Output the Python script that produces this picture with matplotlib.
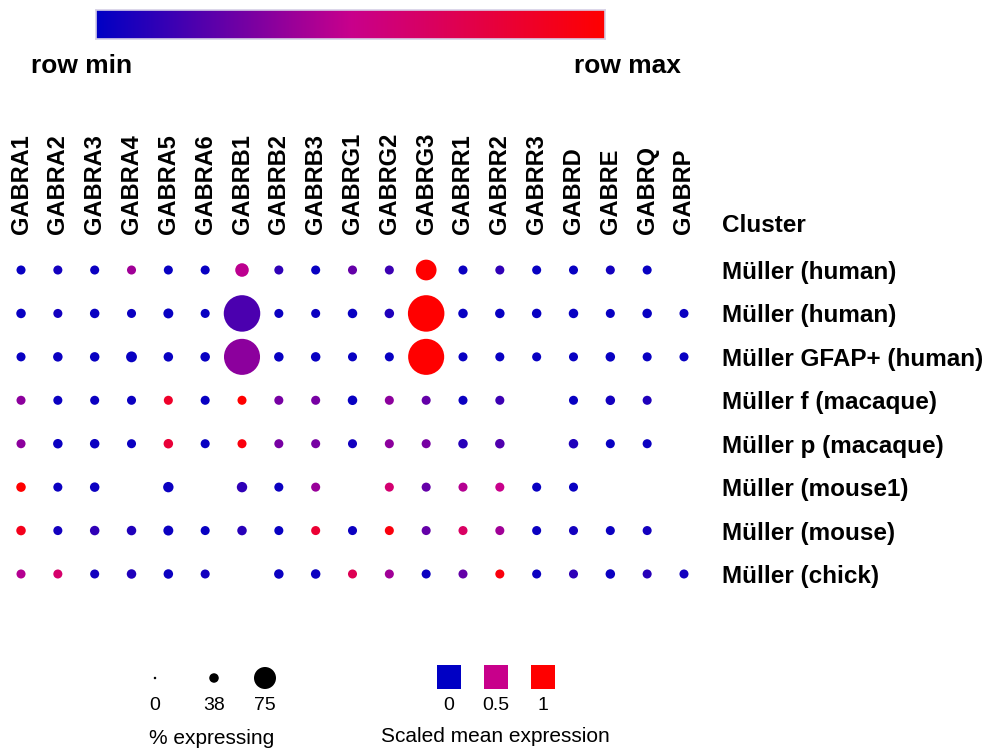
import numpy as np
import matplotlib
matplotlib.use("Agg")
import matplotlib.pyplot as plt
from matplotlib.colors import LinearSegmentedColormap

plt.rcParams["font.family"] = ["Liberation Sans", "DejaVu Sans"]

nan = np.nan

GENES = ["GABRA1", "GABRA2", "GABRA3", "GABRA4", "GABRA5", "GABRA6", "GABRB1", "GABRB2",
         "GABRB3", "GABRG1", "GABRG2", "GABRG3", "GABRR1", "GABRR2", "GABRR3", "GABRD",
         "GABRE", "GABRQ", "GABRP"]
CLUSTERS = ["Müller (human)", "Müller (human)", "Müller GFAP+ (human)", "Müller f (macaque)",
            "Müller p (macaque)", "Müller (mouse1)", "Müller (mouse)", "Müller (chick)"]

# scaled mean expression (row min = 0, row max = 1), nan = not shown
EXPR = np.array([
    [0.02, 0.05, 0.03, 0.40, 0.02, 0.02, 0.47, 0.12, 0.02, 0.25, 0.15, 1.00, 0.03, 0.12, 0.02, 0.02, 0.05, 0.02, nan],
    [0.02, 0.05, 0.02, 0.03, 0.02, 0.02, 0.19, 0.03, 0.03, 0.02, 0.08, 1.00, 0.02, 0.02, 0.02, 0.02, 0.02, 0.02, 0.03],
    [0.02, 0.03, 0.02, 0.02, 0.02, 0.02, 0.35, 0.02, 0.02, 0.02, 0.02, 1.00, 0.02, 0.02, 0.02, 0.02, 0.02, 0.02, 0.02],
    [0.35, 0.03, 0.03, 0.03, 0.85, 0.02, 1.00, 0.30, 0.30, 0.02, 0.35, 0.25, 0.03, 0.15, nan, 0.02, 0.05, 0.08, nan],
    [0.35, 0.03, 0.03, 0.03, 0.80, 0.02, 0.95, 0.30, 0.30, 0.05, 0.35, 0.30, 0.10, 0.20, nan, 0.08, 0.02, 0.03, nan],
    [1.00, 0.03, 0.03, nan, 0.03, nan, 0.12, 0.03, 0.38, nan, 0.60, 0.25, 0.45, 0.50, 0.02, 0.02, nan, nan, nan],
    [0.90, 0.05, 0.12, 0.08, 0.03, 0.02, 0.10, 0.02, 0.82, 0.03, 0.95, 0.25, 0.65, 0.40, 0.03, 0.05, 0.03, 0.05, nan],
    [0.45, 0.62, 0.05, 0.08, 0.03, 0.05, nan, 0.03, 0.03, 0.70, 0.40, 0.03, 0.25, 0.95, 0.03, 0.12, 0.03, 0.10, 0.05],
])

# % expressing
PCT = np.array([
    [9, 9, 9, 9, 9, 9, 19, 9, 9, 9, 9, 35, 9, 9, 9, 9, 9, 9, nan],
    [10, 9, 10, 9, 11, 9, 70, 9, 9, 10, 10, 70, 10, 10, 10, 10, 9, 10, 9],
    [9, 10, 10, 13, 10, 10, 69, 10, 10, 9, 9, 69, 9, 9, 9, 9, 10, 9, 9],
    [9, 9, 9, 9, 9, 9, 9, 9, 9, 10, 9, 9, 9, 9, nan, 9, 10, 9, nan],
    [9, 10, 10, 9, 10, 9, 9, 9, 9, 9, 9, 9, 10, 10, nan, 10, 9, 9, nan],
    [10, 9, 10, nan, 12, nan, 12, 9, 9, nan, 9, 9, 9, 9, 9, 9, nan, nan, nan],
    [10, 9, 10, 10, 11, 9, 10, 9, 9, 9, 9, 9, 9, 9, 9, 9, 9, 9, nan],
    [9, 9, 9, 10, 10, 9, nan, 10, 10, 9, 9, 9, 9, 9, 9, 9, 10, 9, 9],
])

LEG_PCT = [0, 38, 75]
LEG_EXPR = [0, 0.5, 1]

W, H = 991, 751
cmap = LinearSegmentedColormap.from_list("rowscale", ["#0000C4", "#C8008C", "#FF0000"])


def px_area(diam_px):
    return (np.asarray(diam_px) * 72.0 / 100.0) ** 2


fig = plt.figure(figsize=(W / 100, H / 100), dpi=100)

# main dot grid
left, right, top, bottom = 2.6, 702.4, 248.3, 595.7
ax = fig.add_axes([left / W, 1 - bottom / H, (right - left) / W, (bottom - top) / H])
rr, cc = np.nonzero(~np.isnan(EXPR))
vals = EXPR[rr, cc]
diam = 5 + 0.45 * PCT[rr, cc]
ax.scatter(cc, rr, s=px_area(diam), c=vals, cmap=cmap, vmin=0, vmax=1, linewidths=0, zorder=3)
ax.set_xlim(-0.5, len(GENES) - 0.5)
ax.set_ylim(len(CLUSTERS) - 0.5, -0.5)
ax.xaxis.tick_top()
ax.set_xticks(range(len(GENES)))
ax.set_xticklabels(GENES, rotation=90, fontsize=17, fontweight="bold")
ax.yaxis.tick_right()
ax.set_yticks(range(len(CLUSTERS)))
ax.set_yticklabels(CLUSTERS, fontsize=17.5, fontweight="bold")
ax.tick_params(length=0)
ax.tick_params(axis="x", pad=10.5)
ax.tick_params(axis="y", pad=14)
for s in ax.spines.values():
    s.set_visible(False)
ax.set_facecolor("none")
fig.text(722 / W, 1 - 226 / H, "Cluster", fontsize=17.5, fontweight="bold", ha="left", va="center")

# colour bar on top
cax = fig.add_axes([96 / W, 1 - 39 / H, 509 / W, 29 / H])
cax.imshow(np.linspace(0, 1, 256)[None, :], aspect="auto", cmap=cmap)
cax.set_xticks([])
cax.set_yticks([])
for s in cax.spines.values():
    s.set_color("#d6d0e6")
    s.set_linewidth(1.2)
fig.text(82 / W, 1 - 66 / H, "row min", fontsize=19, fontweight="bold", ha="center", va="center")
fig.text(627 / W, 1 - 66 / H, "row max", fontsize=19, fontweight="bold", ha="center", va="center")

# legends, drawn on an overlay in pixel coordinates
lax = fig.add_axes([0, 0, 1, 1])
lax.set_xlim(0, W)
lax.set_ylim(H, 0)
lax.axis("off")
size_x = [155, 214, 265]
size_d = [2.5, 9.5, 22]
lax.scatter(size_x, [678] * 3, s=px_area(size_d), color="black", linewidths=0)
for x, v in zip(size_x, LEG_PCT):
    lax.text(x, 705, str(v), fontsize=14, ha="center", va="center")
lax.text(212, 739, "% expressing", fontsize=15, ha="center", va="center")

col_x = [449, 496, 543]
lax.scatter(col_x, [677] * 3, s=px_area(24), marker="s", c=LEG_EXPR, cmap=cmap, vmin=0, vmax=1,
            linewidths=0)
for x, v in zip(col_x, LEG_EXPR):
    lax.text(x, 705, f"{v:g}", fontsize=14, ha="center", va="center")
lax.text(495, 736, "Scaled mean expression", fontsize=15, ha="center", va="center")

fig.savefig("out.png", dpi=100)
